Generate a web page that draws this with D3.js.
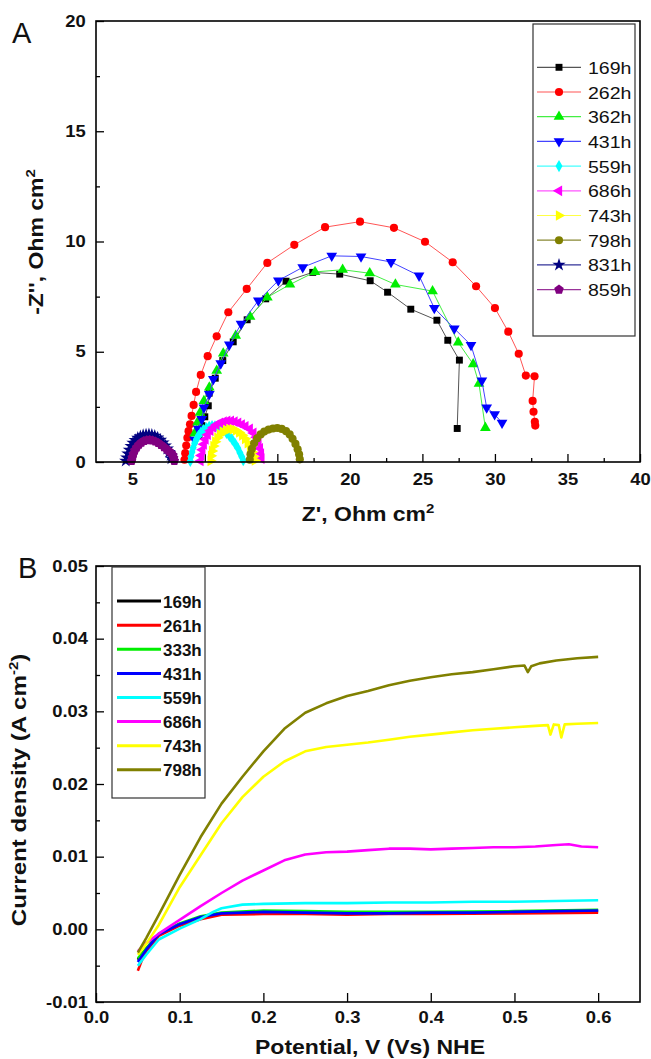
<!DOCTYPE html>
<html><head><meta charset="utf-8">
<script src="https://cdn.jsdelivr.net/npm/d3@7"></script>
<style>
body{margin:0;background:#fff}
svg{display:block}
text{font-family:"Liberation Sans",Arial,Helvetica,sans-serif}
</style>
</head><body>
<svg id="c" width="651" height="1059"></svg>
<script>
// ---------------- Panel A data: Nyquist plots [Z', -Z''] ----------------
const eisLabels = ["169h","262h","362h","431h","559h","686h","743h","798h","831h","859h"];
const eisColors = ["#000000","#ff0000","#00ee00","#0000ff","#00ffff","#ff00ff","#ffff00","#808000","#000080","#800080"];
const eisLineColors = ["#555555","#ff5555","#44ee44","#4444ff","#44ffff","#ff55ff","#ffff44","#888833","#333399","#993399"];
const eisSymbols = ["square","circle","triUp","triDown","diamond","triLeft","triRight","circle","star","pentagon"];

const eis169 = [[9.6,1.2],[9.8,1.65],[10.0,2.05],[10.24,2.55],[10.3,3.12],[10.72,3.8],[11.24,4.6],[11.96,5.45],[12.92,6.45],[14.2,7.4],[15.6,8.2],[17.44,8.6],[19.3,8.52],[21.4,8.22],[22.6,7.7],[24.2,6.93],[26.0,6.43],[26.75,5.52],[27.55,4.62],[27.4,1.52]];
const eis262 = [[8.6,0.1],[8.65,0.4],[8.72,0.75],[8.8,1.1],[8.88,1.4],[8.98,1.71],[9.09,2.09],[9.23,2.59],[9.4,3.18],[9.72,3.95],[10.2,4.8],[10.82,5.7],[11.62,6.79],[12.89,7.85],[14.31,9.03],[16.17,9.85],[18.29,10.65],[20.7,10.9],[23.04,10.62],[25.18,9.99],[27.09,9.06],[28.7,7.97],[30.0,6.98],[30.92,5.91],[31.64,4.91],[32.13,3.92],[32.73,3.89],[32.6,2.77],[32.66,2.28],[32.75,1.82],[32.78,1.65]];
const eis362 = [[9.3,1.3],[9.5,1.8],[9.67,2.24],[9.94,2.77],[10.31,3.38],[10.82,4.14],[11.27,4.92],[12.13,5.73],[13.12,6.59],[14.31,7.47],[15.87,8.05],[17.6,8.62],[19.5,8.72],[21.37,8.56],[23.14,8.05],[25.7,7.75],[27.47,5.42],[28.5,4.44],[28.9,3.55],[29.34,1.55]];
const eis431 = [[9.3,1.0],[9.55,1.5],[9.79,1.94],[9.94,2.47],[10.31,3.08],[10.59,3.76],[11.1,4.47],[11.69,5.32],[12.5,6.26],[13.69,7.32],[15.07,8.23],[16.75,8.83],[18.75,9.35],[20.77,9.32],[22.84,9.07],[24.77,8.45],[25.82,6.98],[27.2,6.05],[28.35,5.3],[29.1,3.69],[29.43,2.47],[29.98,2.16],[30.49,1.78]];
const eis559 = [[9.0,0.05],[9.05,0.25],[9.12,0.45],[9.2,0.65],[9.3,0.85],[9.42,1.03],[9.56,1.19],[9.72,1.33],[9.9,1.45],[10.1,1.54],[10.3,1.6],[10.5,1.63],[10.7,1.62],[10.9,1.58],[11.1,1.52],[11.3,1.43],[11.5,1.32],[11.7,1.18],[11.9,1.01],[12.1,0.82],[12.28,0.62],[12.42,0.42],[12.55,0.24],[12.65,0.08]];
const eis686 = [[9.7,0.05],[9.75,0.3],[9.83,0.55],[9.93,0.8],[10.05,1.03],[10.2,1.24],[10.38,1.42],[10.58,1.57],[10.8,1.69],[11.05,1.78],[11.3,1.83],[11.55,1.86],[11.8,1.86],[12.05,1.83],[12.3,1.77],[12.55,1.7],[12.8,1.62],[13.1,1.5],[13.35,1.32],[13.55,1.12],[13.7,0.88],[13.8,0.62],[13.87,0.38],[13.9,0.15]];
const eis743 = [[10.4,0.05],[10.43,0.28],[10.5,0.5],[10.6,0.72],[10.72,0.92],[10.87,1.1],[11.05,1.25],[11.25,1.37],[11.47,1.45],[11.7,1.49],[11.93,1.48],[12.15,1.43],[12.37,1.34],[12.58,1.21],[12.78,1.05],[12.96,0.86],[13.12,0.66],[13.25,0.45],[13.36,0.25],[13.45,0.07]];
const eis798 = [[13.1,0.1],[13.15,0.35],[13.25,0.6],[13.4,0.85],[13.6,1.07],[13.85,1.25],[14.1,1.38],[14.4,1.47],[14.7,1.52],[15.0,1.54],[15.3,1.5],[15.6,1.4],[15.85,1.25],[16.05,1.05],[16.25,0.82],[16.4,0.58],[16.5,0.35],[16.55,0.12]];
const eis831 = [[4.55,0.05],[4.62,0.2],[4.7,0.38],[4.8,0.55],[4.92,0.72],[5.05,0.87],[5.2,0.99],[5.38,1.09],[5.56,1.16],[5.75,1.21],[5.95,1.24],[6.15,1.25],[6.35,1.23],[6.55,1.18],[6.75,1.1],[6.95,1.0],[7.12,0.88],[7.28,0.74],[7.42,0.6],[7.55,0.45],[7.65,0.3],[7.7,0.15]];
const eis859 = [[4.95,0.05],[5.0,0.2],[5.07,0.36],[5.17,0.52],[5.3,0.66],[5.45,0.78],[5.62,0.88],[5.8,0.95],[6.0,0.99],[6.2,1.0],[6.4,0.98],[6.6,0.93],[6.8,0.86],[7.0,0.77],[7.2,0.67],[7.38,0.57],[7.55,0.48],[7.7,0.4],[7.8,0.3],[7.85,0.18],[7.9,0.05]];
const eisSeries = [eis169,eis262,eis362,eis431,eis559,eis686,eis743,eis798,eis831,eis859];
const eisXTicks = [5,10,15,20,25,30,35,40];
const eisYTicks = [0,5,10,15,20];

// ---------------- Panel B data: polarisation curves [V, A cm-2] ----------------
const lsvLabels = ["169h","261h","333h","431h","559h","686h","743h","798h"];
const lsvColors = ["#000000","#ff0000","#00ee00","#0000ff","#00ffff","#ff00ff","#ffff00","#808000"];
const lsv169 = [[0.05,-0.0042],[0.06,-0.0027],[0.075,-0.0007],[0.1,0.0007],[0.125,0.0016],[0.15,0.0021],[0.2,0.0023],[0.3,0.0022],[0.4,0.0023],[0.5,0.0024],[0.6,0.0025]];
const lsv261 = [[0.05,-0.0057],[0.055,-0.0042],[0.06,-0.003],[0.075,-0.0009],[0.1,0.0005],[0.125,0.0014],[0.15,0.002],[0.2,0.0021],[0.25,0.0021],[0.3,0.002],[0.35,0.0021],[0.4,0.0021],[0.5,0.0022],[0.6,0.0023]];
const lsv333 = [[0.05,-0.004],[0.06,-0.0026],[0.075,-0.0006],[0.1,0.0008],[0.125,0.0018],[0.15,0.0023],[0.2,0.0026],[0.25,0.0025],[0.3,0.0024],[0.4,0.0024],[0.5,0.0025],[0.6,0.0027]];
const lsv431 = [[0.05,-0.0045],[0.06,-0.0028],[0.075,-0.0007],[0.1,0.0007],[0.125,0.0017],[0.15,0.0022],[0.175,0.0023],[0.2,0.0024],[0.25,0.0023],[0.3,0.0022],[0.35,0.0022],[0.4,0.0023],[0.45,0.0023],[0.5,0.0024],[0.55,0.0025],[0.6,0.0026]];
const lsv559 = [[0.05,-0.005],[0.06,-0.0035],[0.075,-0.0014],[0.1,0.0001],[0.125,0.0014],[0.14,0.0024],[0.15,0.0029],[0.175,0.0034],[0.2,0.0035],[0.25,0.0036],[0.3,0.0036],[0.35,0.0037],[0.4,0.0037],[0.45,0.0038],[0.5,0.0038],[0.55,0.0039],[0.6,0.004]];
const lsv686 = [[0.05,-0.003],[0.06,-0.0019],[0.075,-0.0006],[0.1,0.0013],[0.125,0.0032],[0.15,0.005],[0.175,0.0067],[0.2,0.0081],[0.225,0.0095],[0.25,0.0103],[0.275,0.0106],[0.3,0.0107],[0.325,0.0109],[0.35,0.0111],[0.375,0.0111],[0.4,0.011],[0.425,0.0111],[0.45,0.0112],[0.475,0.0113],[0.5,0.0113],[0.525,0.0114],[0.55,0.0116],[0.565,0.0117],[0.58,0.0114],[0.6,0.0113]];
const lsv743 = [[0.05,-0.0035],[0.06,-0.002],[0.075,0.0006],[0.1,0.0058],[0.125,0.0102],[0.15,0.0146],[0.175,0.0182],[0.2,0.021],[0.225,0.0231],[0.25,0.0245],[0.275,0.0251],[0.3,0.0254],[0.325,0.0257],[0.35,0.0261],[0.375,0.0265],[0.4,0.0268],[0.425,0.0271],[0.45,0.0274],[0.475,0.0276],[0.5,0.0278],[0.525,0.028],[0.54,0.0281],[0.543,0.0268],[0.547,0.0282],[0.553,0.0281],[0.556,0.0264],[0.56,0.0282],[0.575,0.0283],[0.6,0.0284]];
const lsv798 = [[0.05,-0.0032],[0.06,-0.0012],[0.075,0.002],[0.1,0.0075],[0.125,0.0127],[0.15,0.0173],[0.175,0.021],[0.2,0.0245],[0.225,0.0276],[0.25,0.0298],[0.275,0.0311],[0.3,0.0321],[0.325,0.0328],[0.35,0.0336],[0.375,0.0342],[0.4,0.0347],[0.425,0.0351],[0.45,0.0354],[0.475,0.0358],[0.5,0.0362],[0.512,0.0363],[0.516,0.0354],[0.52,0.0362],[0.53,0.0366],[0.55,0.037],[0.575,0.0373],[0.6,0.0375]];
const lsvSeries = [lsv169,lsv261,lsv333,lsv431,lsv559,lsv686,lsv743,lsv798];
const lsvXTicks = [0,0.1,0.2,0.3,0.4,0.5,0.6];
const lsvYTicks = [-0.01,0,0.01,0.02,0.03,0.04,0.05];

// ---------------- drawing ----------------
const svg = d3.select("#c");
svg.append("rect").attr("width",651).attr("height",1059).attr("fill","#fff");
const SX = 1.15;
const stretch = sel => sel.attr("transform", `scale(${SX},1)`);

function symbolPath(name, size){
  const pent = {draw(ctx,s){const r=Math.sqrt(s/2.4);for(let i=0;i<5;i++){const a=-Math.PI/2+i*2*Math.PI/5;const x=r*Math.cos(a),y=r*Math.sin(a);i?ctx.lineTo(x,y):ctx.moveTo(x,y);}ctx.closePath();}};
  const map = {square:[d3.symbolSquare,0],circle:[d3.symbolCircle,0],triUp:[d3.symbolTriangle,0],triDown:[d3.symbolTriangle,180],
    diamond:[d3.symbolDiamond,0],triLeft:[d3.symbolTriangle,-90],triRight:[d3.symbolTriangle,90],star:[d3.symbolStar,0],pentagon:[pent,0]};
  const [t,rot] = map[name];
  return {d:d3.symbol(t,size)(), rot};
}
const symSize = {square:48,circle:52,triUp:50,triDown:50,diamond:42,triLeft:50,triRight:50,star:55,pentagon:60};

function frame(g,x0,y0,x1,y1){
  g.append("rect").attr("x",x0).attr("y",y0).attr("width",x1-x0).attr("height",y1-y0)
    .attr("fill","none").attr("stroke","#000").attr("stroke-width",1.6);
}
function styleAxis(g){
  g.select(".domain").remove();
  g.selectAll(".tick line").attr("stroke","#000").attr("stroke-width",1.3);
  g.selectAll(".tick text").attr("font-size",16).attr("font-weight","bold").attr("fill","#111");
}

// ---- Panel A ----
const xA = d3.scaleLinear().domain([2.5,40]).range([96,640]);
const yA = d3.scaleLinear().domain([0,20]).range([462,21]);
const gA = svg.append("g");

const ax1 = gA.append("g").attr("transform","translate(0,462)")
  .call(d3.axisBottom(xA).tickValues(eisXTicks).tickSize(-8).tickPadding(12).tickFormat(d3.format("d")));
styleAxis(ax1); stretch(ax1.selectAll(".tick text"));
const ax1m = gA.append("g").attr("transform","translate(0,462)")
  .call(d3.axisBottom(xA).tickValues([7.5,12.5,17.5,22.5,27.5,32.5,37.5]).tickSize(-4).tickFormat(""));
styleAxis(ax1m);
const ay1 = gA.append("g").attr("transform","translate(96,0)")
  .call(d3.axisLeft(yA).tickValues(eisYTicks).tickSize(-8).tickPadding(9).tickFormat(d3.format("d")));
styleAxis(ay1); stretch(ay1.selectAll(".tick text"));
const ay1m = gA.append("g").attr("transform","translate(96,0)")
  .call(d3.axisLeft(yA).tickValues([2.5,7.5,12.5,17.5]).tickSize(-4).tickFormat(""));
styleAxis(ay1m);

const lineA = d3.line().x(d=>xA(d[0])).y(d=>yA(d[1]));
eisSeries.forEach((s,i)=>{
  gA.append("path").attr("d",lineA(s)).attr("fill","none").attr("stroke",eisLineColors[i]).attr("stroke-width",1);
  const sp = symbolPath(eisSymbols[i], symSize[eisSymbols[i]]);
  gA.append("g").selectAll("path").data(s).join("path")
    .attr("d",sp.d).attr("transform",d=>`translate(${xA(d[0])},${yA(d[1])}) rotate(${sp.rot})`)
    .attr("fill",eisColors[i]);
});
frame(gA,96,21,640,462);

// legend A
const lgA = gA.append("g");
lgA.append("rect").attr("x",533).attr("y",24).attr("width",102).attr("height",312)
  .attr("fill","#fff").attr("stroke","#333").attr("stroke-width",1.2);
eisLabels.forEach((lab,i)=>{
  const y = 67.3 + i*24.7;
  lgA.append("line").attr("x1",537).attr("x2",581).attr("y1",y).attr("y2",y).attr("stroke",eisLineColors[i]).attr("stroke-width",1.2);
  const sp = symbolPath(eisSymbols[i], symSize[eisSymbols[i]]);
  lgA.append("path").attr("d",sp.d).attr("transform",`translate(559,${y}) rotate(${sp.rot})`).attr("fill",eisColors[i]);
  lgA.append("text").attr("transform",`translate(588,${y+6.5}) scale(${SX},1)`).attr("font-size",17).attr("fill","#111").text(lab);
});

// titles A
svg.append("text").attr("x",12).attr("y",43).attr("font-size",29).attr("fill","#111").text("A");
const tyA = svg.append("text").attr("transform",`translate(43,242) rotate(-90) scale(${SX},1)`)
  .attr("text-anchor","middle").attr("font-size",20).attr("font-weight","bold").attr("fill","#111");
tyA.append("tspan").text("-Z'', Ohm cm");
tyA.append("tspan").attr("font-size",13).attr("dy",-8).text("2");
const txA = svg.append("text").attr("transform",`translate(368,521) scale(${SX},1)`)
  .attr("text-anchor","middle").attr("font-size",20).attr("font-weight","bold").attr("fill","#111");
txA.append("tspan").text("Z', Ohm cm");
txA.append("tspan").attr("font-size",13).attr("dy",-8).text("2");

// ---- Panel B ----
const xB = d3.scaleLinear().domain([0,0.65]).range([96,640]);
const yB = d3.scaleLinear().domain([-0.01,0.05]).range([1002,566]);
const gB = svg.append("g");
const ax2 = gB.append("g").attr("transform","translate(0,1002)")
  .call(d3.axisBottom(xB).tickValues(lsvXTicks).tickSize(-9).tickPadding(10).tickFormat(d=>d.toFixed(1)));
styleAxis(ax2); stretch(ax2.selectAll(".tick text"));
const ay2 = gB.append("g").attr("transform","translate(96,0)")
  .call(d3.axisLeft(yB).tickValues(lsvYTicks).tickSize(-8).tickPadding(7).tickFormat(d=>d.toFixed(2)));
styleAxis(ay2); stretch(ay2.selectAll(".tick text"));
const ay2m = gB.append("g").attr("transform","translate(96,0)")
  .call(d3.axisLeft(yB).tickValues([-0.005,0.005,0.015,0.025,0.035,0.045]).tickSize(-4).tickFormat(""));
styleAxis(ay2m);

const lineB = d3.line().x(d=>xB(d[0])).y(d=>yB(d[1]));
lsvSeries.forEach((s,i)=>{
  gB.append("path").attr("d",lineB(s)).attr("fill","none").attr("stroke",lsvColors[i])
    .attr("stroke-width",2.6).attr("stroke-linejoin","round");
});
frame(gB,96,566,640,1002);

// legend B
const lgB = gB.append("g");
lgB.append("rect").attr("x",112).attr("y",567).attr("width",93).attr("height",231)
  .attr("fill","#fff").attr("stroke","#333").attr("stroke-width",1.2);
lsvLabels.forEach((lab,i)=>{
  const y = 601.1 + i*24.1;
  lgB.append("line").attr("x1",117).attr("x2",161).attr("y1",y).attr("y2",y).attr("stroke",lsvColors[i]).attr("stroke-width",3);
  lgB.append("text").attr("x",163).attr("y",y+6.5).attr("font-size",17).attr("font-weight","bold").attr("fill","#111").text(lab);
});

// titles B
svg.append("text").attr("x",18).attr("y",578).attr("font-size",29).attr("fill","#111").text("B");
const tyB = svg.append("text").attr("transform",`translate(26,790) rotate(-90) scale(${SX},1)`)
  .attr("text-anchor","middle").attr("font-size",21).attr("font-weight","bold").attr("fill","#111");
tyB.append("tspan").text("Current density (A cm");
tyB.append("tspan").attr("font-size",13).attr("dy",-8).text("-2");
tyB.append("tspan").attr("dy",8).text(")");
svg.append("text").attr("transform",`translate(370,1054) scale(${SX},1)`)
  .attr("text-anchor","middle").attr("font-size",20).attr("font-weight","bold").attr("fill","#111")
  .text("Potential, V (Vs) NHE");
</script>
</body></html>
